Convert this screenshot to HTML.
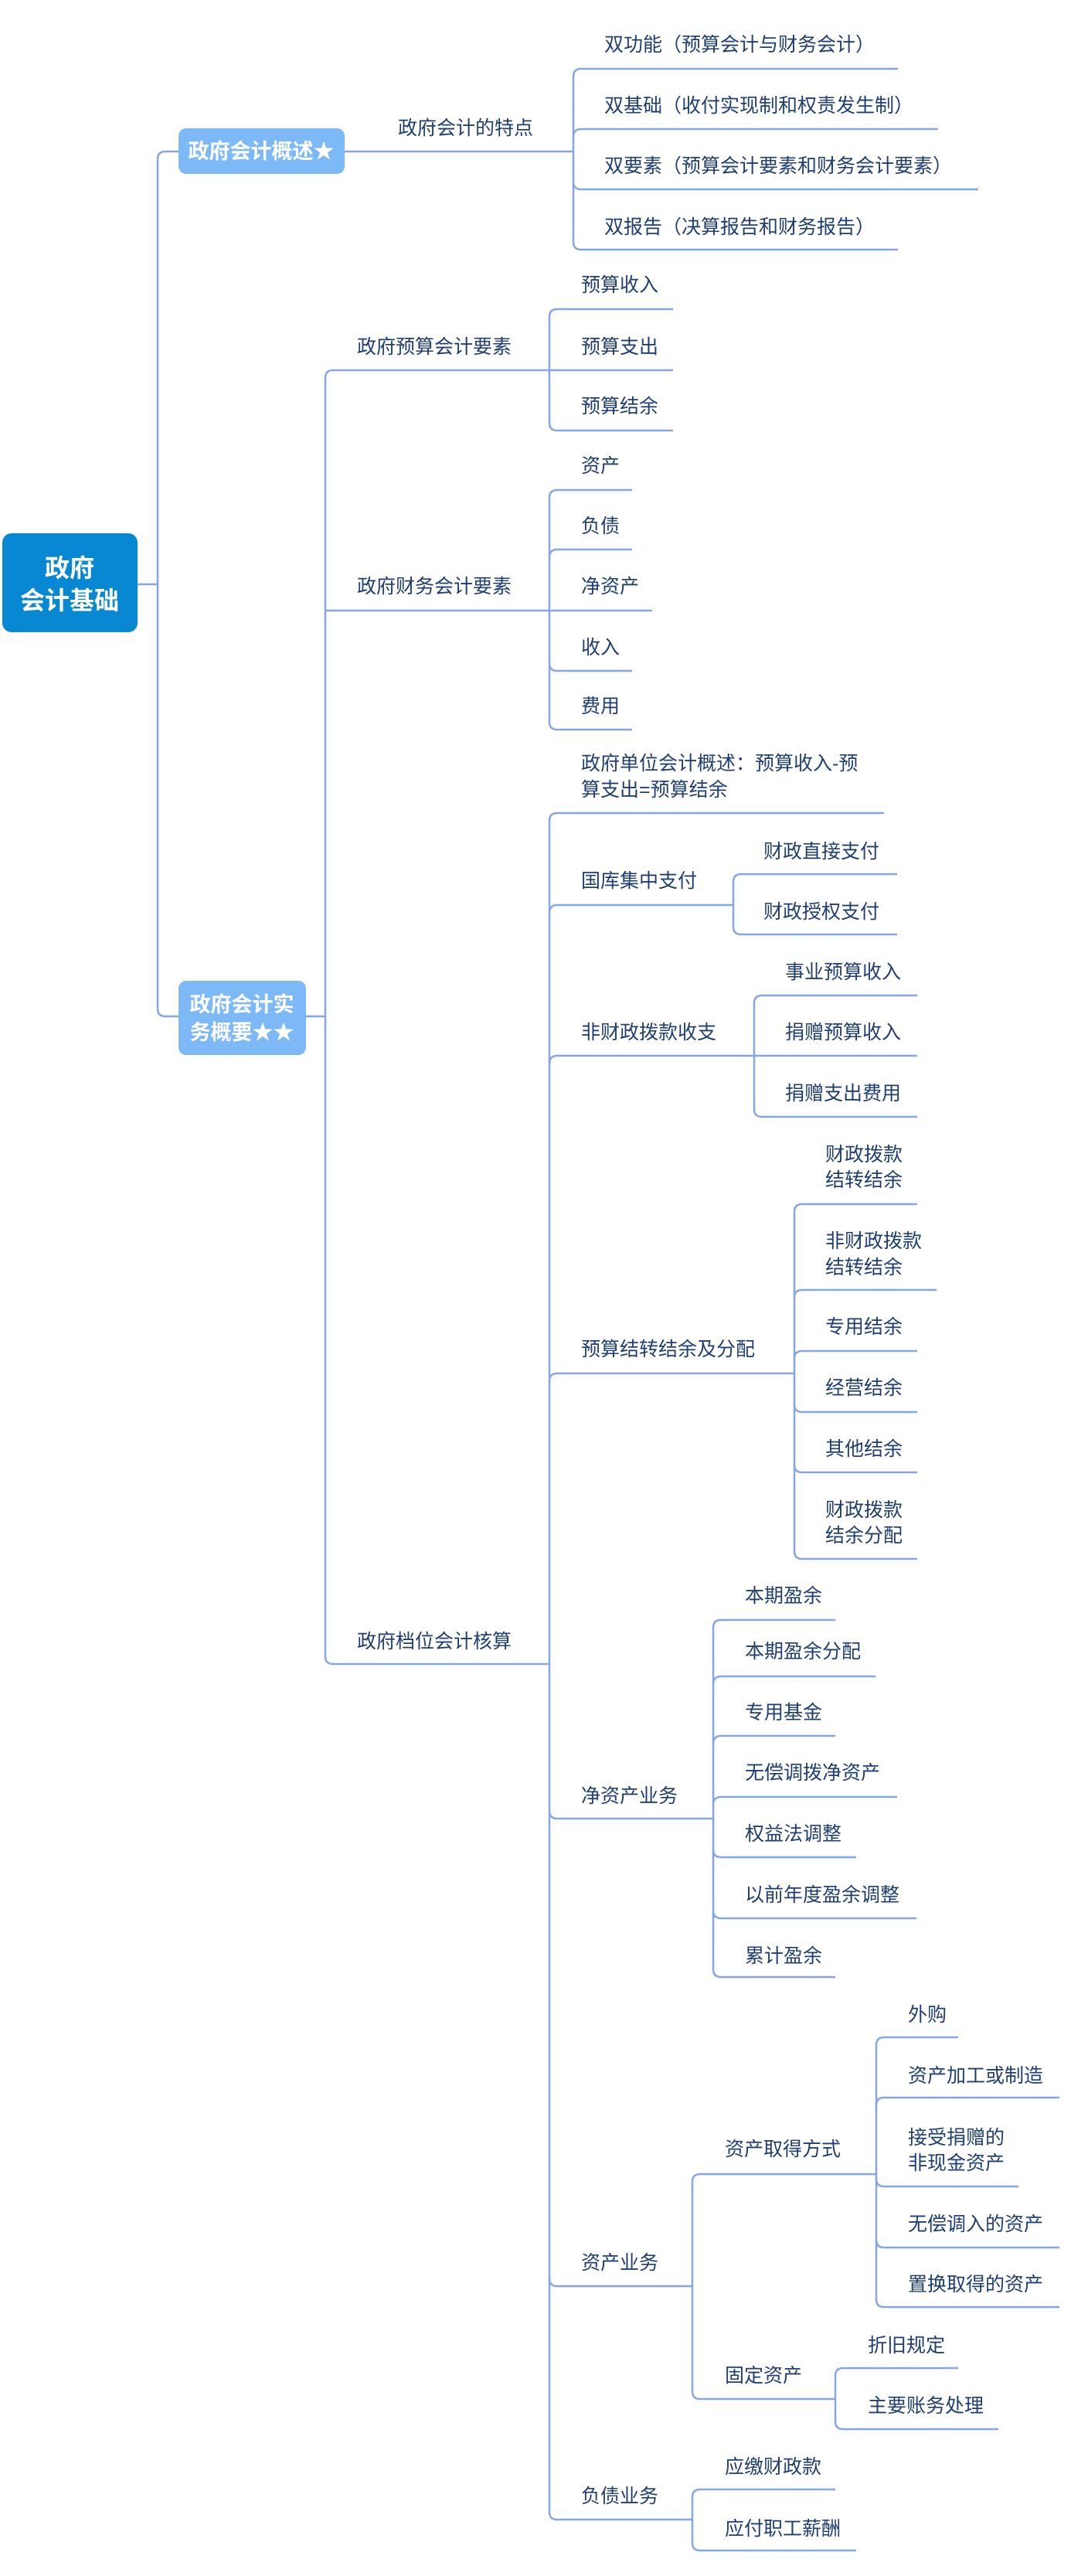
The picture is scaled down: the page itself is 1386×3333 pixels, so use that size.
<!DOCTYPE html>
<html><head><meta charset="utf-8"><style>
html,body{margin:0;padding:0;background:#fff;}
svg{display:block;}
text{font-family:"Liberation Sans","Noto Sans CJK SC",sans-serif;font-size:25px;fill:#1f3f74;dominant-baseline:central;}
.w{fill:#fff;font-weight:bold;}
path,line{stroke:#86a6e6;stroke-width:2.5;fill:none;}
</style></head><body>
<svg width="1386" height="3333" viewBox="0 0 1386 3333" xmlns="http://www.w3.org/2000/svg">
<!-- root -->
<rect x="3" y="690" width="175" height="128" rx="12" fill="#0888d2"/>
<text class="w" x="90" y="735" text-anchor="middle" style="font-size:32px">政府</text>
<text class="w" x="90" y="777" text-anchor="middle" style="font-size:32px">会计基础</text>
<path d="M178,756 H204"/>
<path d="M204,206 Q204,196 214,196 H231"/>
<path d="M204,206 V1305 Q204,1315 214,1315 H231"/>

<!-- node1 -->
<rect x="231" y="166" width="215" height="59" rx="10" fill="#7cb9f6"/>
<text class="w" x="338" y="196" text-anchor="middle" style="font-size:27px">政府会计概述★</text>
<path d="M446,196 H742"/>
<text x="515" y="166">政府会计的特点</text>
<path d="M742,99 Q742,89 752,89 H1162"/>
<path d="M742,99 V313 Q742,323 752,323 H1162"/>
<path d="M742,177 Q742,167 752,167 H1214"/>
<path d="M742,235 Q742,245 752,245 H1266"/>
<text x="782" y="58">双功能（预算会计与财务会计）</text>
<text x="782" y="137">双基础（收付实现制和权责发生制）</text>
<text x="782" y="215">双要素（预算会计要素和财务会计要素）</text>
<text x="782" y="294">双报告（决算报告和财务报告）</text>

<!-- node2 -->
<rect x="231" y="1269" width="165" height="96" rx="10" fill="#7cb9f6"/>
<text class="w" x="313" y="1300" text-anchor="middle" style="font-size:27px">政府会计实</text>
<text class="w" x="313" y="1336" text-anchor="middle" style="font-size:27px">务概要★★</text>
<path d="M396,1315 H421"/>
<path d="M421,489 Q421,479 431,479 H711"/>
<path d="M421,489 V2143 Q421,2153 431,2153 H711"/>
<path d="M421,790 H711"/>
<text x="462" y="449">政府预算会计要素</text>
<text x="462" y="759">政府财务会计要素</text>
<text x="462" y="2124">政府档位会计核算</text>

<!-- 政府预算会计要素 children -->
<path d="M711,410 Q711,400 721,400 H871"/>
<path d="M711,410 V547 Q711,557 721,557 H871"/>
<path d="M711,479 H871"/>
<text x="752" y="369">预算收入</text>
<text x="752" y="449">预算支出</text>
<text x="752" y="526">预算结余</text>

<!-- 政府财务会计要素 children -->
<path d="M711,644 Q711,634 721,634 H818"/>
<path d="M711,644 V934 Q711,944 721,944 H818"/>
<path d="M711,721 Q711,711 721,711 H818"/>
<path d="M711,790 H844"/>
<path d="M711,858 Q711,868 721,868 H818"/>
<text x="752" y="603">资产</text>
<text x="752" y="681">负债</text>
<text x="752" y="759">净资产</text>
<text x="752" y="838">收入</text>
<text x="752" y="914">费用</text>

<!-- 政府档位会计核算 children -->
<path d="M711,1062 Q711,1052 721,1052 H1144"/>
<path d="M711,1062 V3250 Q711,3260 721,3260 H896"/>
<path d="M711,1181 Q711,1171 721,1171 H949"/>
<path d="M711,1376 Q711,1366 721,1366 H976"/>
<path d="M711,1787 Q711,1777 721,1777 H1028"/>
<path d="M711,2343 Q711,2353 721,2353 H923"/>
<path d="M711,2948 Q711,2958 721,2958 H896"/>
<text x="752" y="988">政府单位会计概述：预算收入-预</text>
<text x="752" y="1022">算支出=预算结余</text>
<text x="752" y="1140">国库集中支付</text>
<text x="752" y="1336">非财政拨款收支</text>
<text x="752" y="1746">预算结转结余及分配</text>
<text x="752" y="2324">净资产业务</text>
<text x="752" y="2928">资产业务</text>
<text x="752" y="3230">负债业务</text>

<!-- 国库集中支付 -->
<path d="M949,1141 Q949,1131 959,1131 H1161"/>
<path d="M949,1141 V1199 Q949,1209 959,1209 H1161"/>
<text x="988" y="1102">财政直接支付</text>
<text x="988" y="1180">财政授权支付</text>

<!-- 非财政拨款收支 -->
<path d="M976,1298 Q976,1288 986,1288 H1187"/>
<path d="M976,1298 V1435 Q976,1445 986,1445 H1187"/>
<path d="M976,1366 H1187"/>
<text x="1016" y="1258">事业预算收入</text>
<text x="1016" y="1336">捐赠预算收入</text>
<text x="1016" y="1415">捐赠支出费用</text>

<!-- 预算结转结余及分配 -->
<path d="M1028,1568 Q1028,1558 1038,1558 H1187"/>
<path d="M1028,1568 V2007 Q1028,2017 1038,2017 H1187"/>
<path d="M1028,1679 Q1028,1669 1038,1669 H1212"/>
<path d="M1028,1758 Q1028,1748 1038,1748 H1187"/>
<path d="M1028,1817 Q1028,1827 1038,1827 H1187"/>
<path d="M1028,1895 Q1028,1905 1038,1905 H1187"/>
<text x="1068" y="1494">财政拨款</text>
<text x="1068" y="1527">结转结余</text>
<text x="1068" y="1606">非财政拨款</text>
<text x="1068" y="1640">结转结余</text>
<text x="1068" y="1717">专用结余</text>
<text x="1068" y="1796">经营结余</text>
<text x="1068" y="1875">其他结余</text>
<text x="1068" y="1954">财政拨款</text>
<text x="1068" y="1987">结余分配</text>

<!-- 净资产业务 -->
<path d="M923,2106 Q923,2096 933,2096 H1081"/>
<path d="M923,2106 V2548 Q923,2558 933,2558 H1081"/>
<path d="M923,2179 Q923,2169 933,2169 H1133"/>
<path d="M923,2256 Q923,2246 933,2246 H1081"/>
<path d="M923,2335 Q923,2325 933,2325 H1161"/>
<path d="M923,2393 Q923,2403 933,2403 H1108"/>
<path d="M923,2472 Q923,2482 933,2482 H1186"/>
<text x="964" y="2065">本期盈余</text>
<text x="964" y="2137">本期盈余分配</text>
<text x="964" y="2216">专用基金</text>
<text x="964" y="2294">无偿调拨净资产</text>
<text x="964" y="2373">权益法调整</text>
<text x="964" y="2452">以前年度盈余调整</text>
<text x="964" y="2531">累计盈余</text>

<!-- 资产业务 -->
<path d="M896,2823 Q896,2813 906,2813 H1134"/>
<path d="M896,2823 V3094 Q896,3104 906,3104 H1081"/>
<text x="938" y="2781">资产取得方式</text>
<text x="938" y="3074">固定资产</text>

<path d="M1134,2646 Q1134,2636 1144,2636 H1240"/>
<path d="M1134,2646 V2975 Q1134,2985 1144,2985 H1371"/>
<path d="M1134,2724 Q1134,2714 1144,2714 H1371"/>
<path d="M1134,2819 Q1134,2829 1144,2829 H1318"/>
<path d="M1134,2898 Q1134,2908 1144,2908 H1371"/>
<text x="1175" y="2607">外购</text>
<text x="1175" y="2686">资产加工或制造</text>
<text x="1175" y="2766">接受捐赠的</text>
<text x="1175" y="2799">非现金资产</text>
<text x="1175" y="2878">无偿调入的资产</text>
<text x="1175" y="2956">置换取得的资产</text>

<path d="M1081,3074 Q1081,3064 1091,3064 H1240"/>
<path d="M1081,3074 V3133 Q1081,3143 1091,3143 H1292"/>
<text x="1123" y="3035">折旧规定</text>
<text x="1123" y="3113">主要账务处理</text>

<!-- 负债业务 -->
<path d="M896,3231 Q896,3221 906,3221 H1081"/>
<path d="M896,3231 V3290 Q896,3300 906,3300 H1108"/>
<text x="938" y="3192">应缴财政款</text>
<text x="938" y="3272">应付职工薪酬</text>
</svg>
</body></html>
